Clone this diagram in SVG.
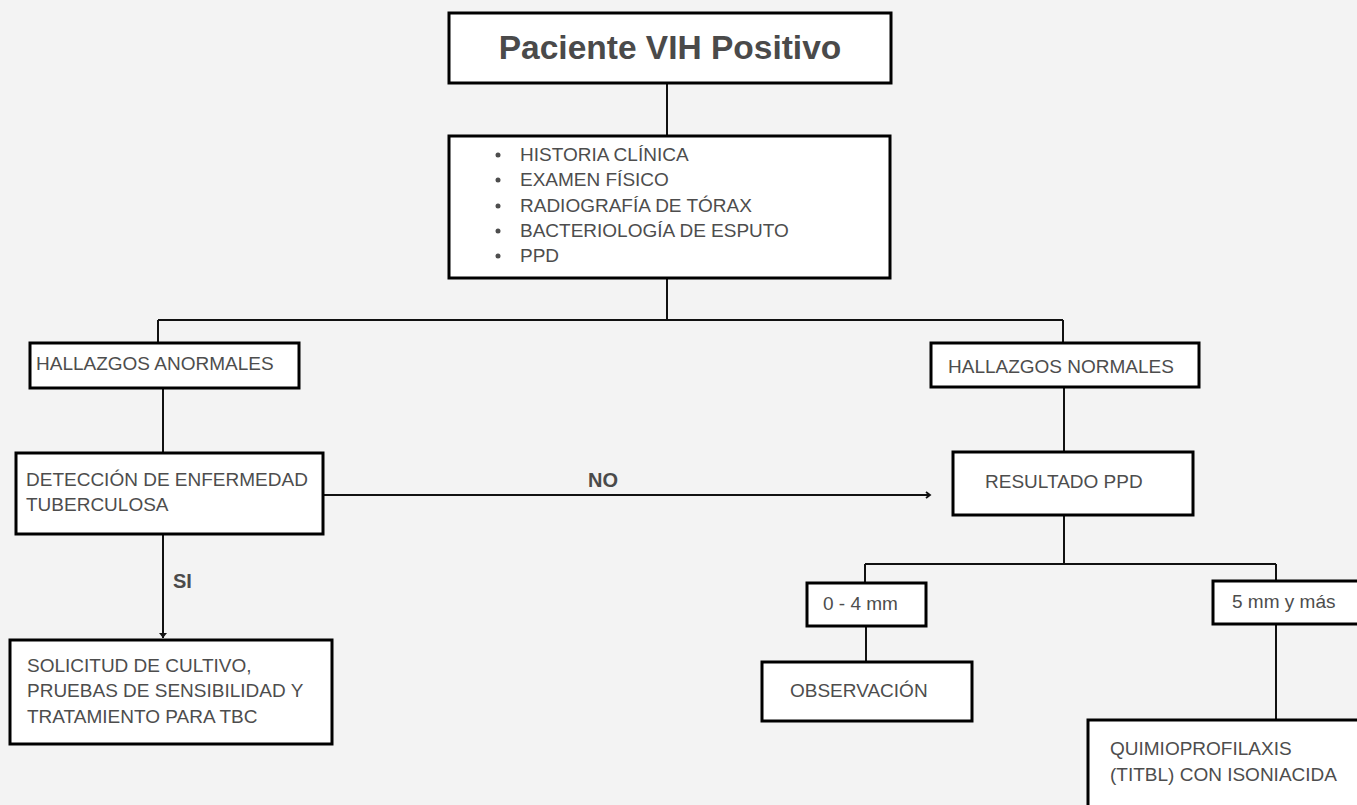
<svg xmlns="http://www.w3.org/2000/svg" width="1357" height="805" viewBox="0 0 1357 805">
<style>
.box{fill:#ffffff;stroke:#000;stroke-width:3}
.t{font-family:"Liberation Sans",Arial,sans-serif;font-size:19px;fill:#4d4d4d}
.b{font-family:"Liberation Sans",Arial,sans-serif;font-weight:bold;fill:#4a4a4a}
.c{fill:none;stroke:#111;stroke-width:2}
</style>
<defs>
<marker id="open" markerWidth="10" markerHeight="10" refX="7" refY="5" orient="auto" markerUnits="userSpaceOnUse">
<path d="M3,2 L7,5 L3,8" fill="none" stroke="#111" stroke-width="1.8"/>
</marker>
<marker id="fill" markerWidth="10" markerHeight="10" refX="5" refY="8" orient="0" markerUnits="userSpaceOnUse">
<path d="M1,3 L9,3 L5,8 Z" fill="#111"/>
</marker>
</defs>
<rect width="1357" height="805" fill="#f3f3f3"/>
<g id="connectors">
<path class="c" d="M667,83 V136"/>
<path class="c" d="M667,278 V320 M158,320 H1063 M158,320 V343 M1063,320 V343"/>
<path class="c" d="M163,388 V453"/>
<path class="c" d="M1064,387 V452"/>
<path class="c" d="M323,495 H930" marker-end="url(#open)"/>
<path class="c" d="M163,534 V638" marker-end="url(#fill)"/>
<path class="c" d="M1064,515 V564 M865,564 H1276 M865,564 V583 M1276,564 V581"/>
<path class="c" d="M866,626 V662"/>
<path class="c" d="M1276,624 V720"/>
<text class="b" x="588" y="487" font-size="20">NO</text>
<text class="b" x="173" y="588" font-size="20">SI</text>
</g>
<g id="title">
<rect class="box" x="449" y="13" width="442" height="70"/>
<text class="b" x="670" y="59" font-size="33.5" text-anchor="middle">Paciente VIH Positivo</text>
</g>
<g id="evaluacion">
<rect class="box" x="449" y="136" width="441" height="142"/>
<g class="t">
<circle cx="498" cy="155" r="2.5" fill="#4d4d4d"/>
<circle cx="498" cy="180" r="2.5" fill="#4d4d4d"/>
<circle cx="498" cy="206" r="2.5" fill="#4d4d4d"/>
<circle cx="498" cy="231" r="2.5" fill="#4d4d4d"/>
<circle cx="498" cy="256" r="2.5" fill="#4d4d4d"/>
<text x="520" y="161">HISTORIA CLÍNICA</text>
<text x="520" y="186">EXAMEN FÍSICO</text>
<text x="520" y="212">RADIOGRAFÍA DE TÓRAX</text>
<text x="520" y="237">BACTERIOLOGÍA DE ESPUTO</text>
<text x="520" y="262">PPD</text>
</g>
</g>
<g id="anormales">
<rect class="box" x="30" y="343" width="269" height="45"/>
<text class="t" x="36" y="370">HALLAZGOS ANORMALES</text>
</g>
<g id="normales">
<rect class="box" x="931" y="343" width="268" height="44"/>
<text class="t" x="948" y="373">HALLAZGOS NORMALES</text>
</g>
<g id="deteccion">
<rect class="box" x="16" y="453" width="307" height="81"/>
<text class="t" x="26" y="486">DETECCIÓN DE ENFERMEDAD</text>
<text class="t" x="26" y="511">TUBERCULOSA</text>
</g>
<g id="resultado">
<rect class="box" x="953" y="452" width="240" height="63"/>
<text class="t" x="985" y="488">RESULTADO PPD</text>
</g>
<g id="solicitud">
<rect class="box" x="10" y="640" width="322" height="104"/>
<text class="t" x="27" y="672">SOLICITUD DE CULTIVO,</text>
<text class="t" x="27" y="697">PRUEBAS DE SENSIBILIDAD Y</text>
<text class="t" x="27" y="723">TRATAMIENTO PARA TBC</text>
</g>
<g id="cero-cuatro">
<rect class="box" x="807" y="583" width="119" height="43"/>
<text class="t" x="823" y="610">0 - 4 mm</text>
</g>
<g id="cinco-mas">
<rect class="box" x="1213" y="581" width="200" height="43"/>
<text class="t" x="1232" y="608">5 mm y más</text>
</g>
<g id="observacion">
<rect class="box" x="762" y="662" width="210" height="59"/>
<text class="t" x="790" y="697">OBSERVACIÓN</text>
</g>
<g id="quimio">
<rect class="box" x="1088" y="720" width="300" height="120"/>
<text class="t" x="1110" y="755">QUIMIOPROFILAXIS</text>
<text class="t" x="1110" y="781">(TITBL) CON ISONIACIDA</text>
</g>
</svg>
